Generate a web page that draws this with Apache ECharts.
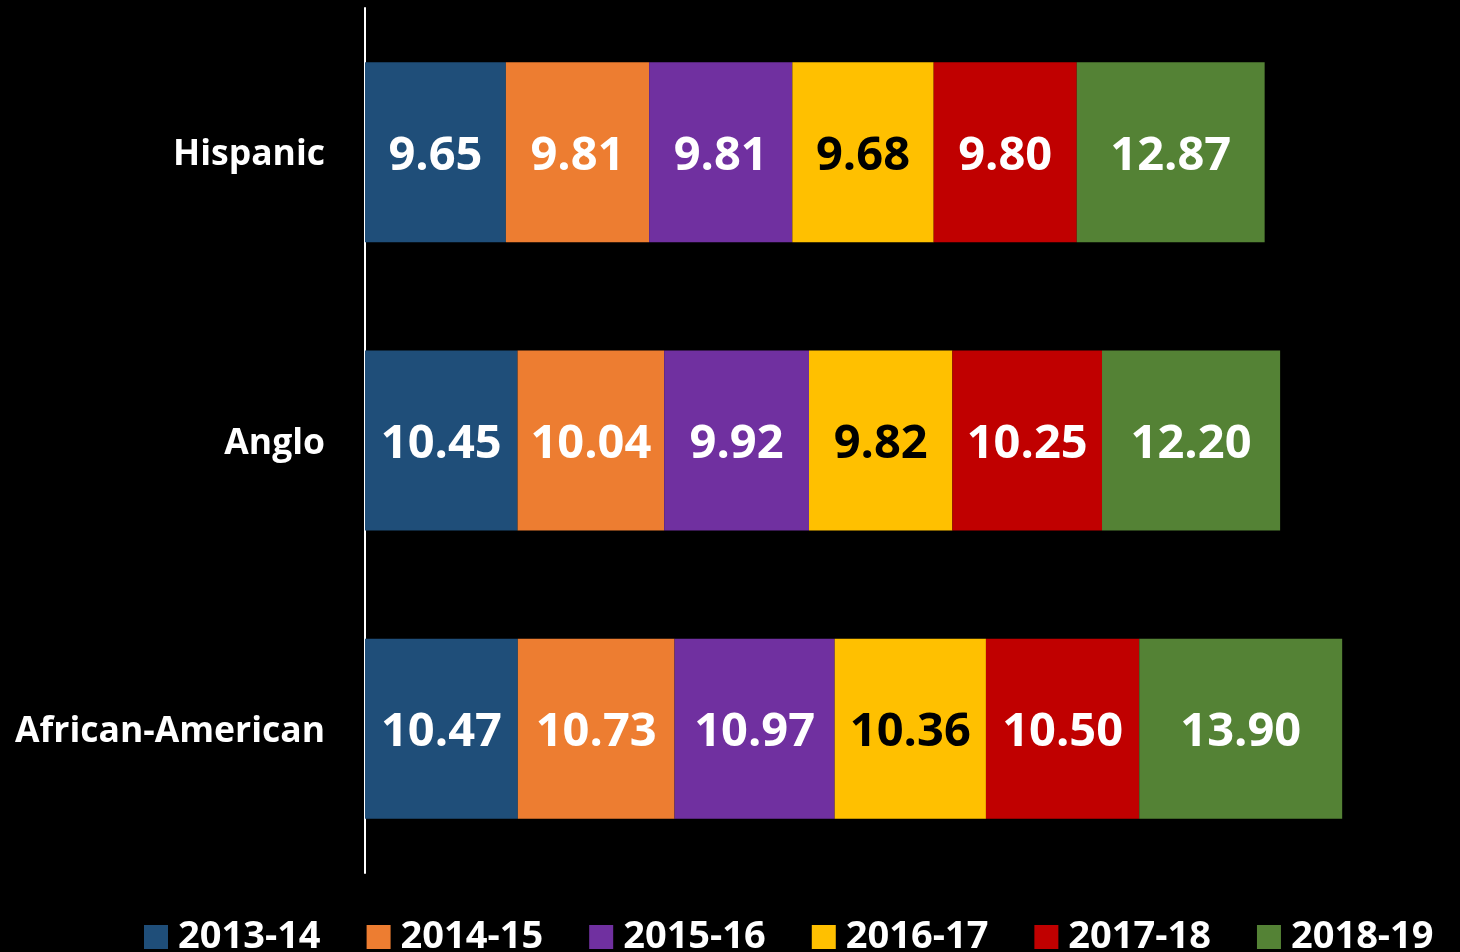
<!DOCTYPE html>
<html>
<head>
<meta charset="utf-8">
<script src="https://cdn.jsdelivr.net/npm/echarts@6/dist/echarts.min.js"></script>
<style>
  html, body { margin: 0; padding: 0; background: #000; }
  #main { width: 1460px; height: 952px; }
</style>
</head>
<body>
<div id="main"></div>
<script>
// 类别（自上而下）
var groups = ['Hispanic', 'Anglo', 'African-American'];
// 学年
var years = ['2013-14', '2014-15', '2015-16', '2016-17', '2017-18', '2018-19'];
// 各学年数值，顺序同 groups
var y2013 = [9.65, 10.45, 10.47];
var y2014 = [9.81, 10.04, 10.73];
var y2015 = [9.81, 9.92, 10.97];
var y2016 = [9.68, 9.82, 10.36];
var y2017 = [9.80, 10.25, 10.50];
var y2018 = [12.87, 12.20, 13.90];
var values = [y2013, y2014, y2015, y2016, y2017, y2018];

var colors = ['#1F4E79', '#ED7D31', '#7030A0', '#FFC000', '#C00000', '#548235'];
var labelColors = ['#fff', '#fff', '#fff', '#000', '#fff', '#fff'];
var font = '"Open Sans", "DejaVu Sans", sans-serif';

var chart = echarts.init(document.getElementById('main'));

var series = years.map(function (name, i) {
    return {
        name: name,
        type: 'bar',
        stack: 'total',
        barWidth: 180,
        data: values[i],
        itemStyle: { color: colors[i] },
        label: {
            show: true,
            position: 'inside',
            offset: [0, 4],
            formatter: function (p) { return p.value.toFixed(2); },
            color: labelColors[i],
            fontFamily: font,
            fontWeight: 'bold',
            fontSize: 47
        }
    };
});

chart.setOption({
    backgroundColor: '#000',
    animation: false,
    color: colors,
    grid: { left: 365, right: 73, top: 8, bottom: 79 },
    legend: {
        data: years,
        top: 918,
        left: 144,
        padding: 0,
        itemWidth: 24,
        itemHeight: 24,
        itemGap: 46,
        icon: 'rect',
        textStyle: {
            color: '#fff',
            fontFamily: font,
            fontWeight: 'bold',
            fontSize: 38,
            padding: [0, 0, 0, 5]
        }
    },
    xAxis: {
        type: 'value',
        min: 0,
        max: 70,
        show: false
    },
    yAxis: {
        type: 'category',
        data: groups,
        inverse: true,
        axisLine: { show: true, lineStyle: { color: '#fff', width: 2 } },
        axisTick: { show: false },
        axisLabel: {
            margin: 40,
            formatter: function (v) { return '{c|' + v + '}'; },
            rich: {
                c: {
                    color: '#fff',
                    fontFamily: font,
                    fontWeight: 'bold',
                    fontSize: 35.5,
                    padding: [6, 0, 0, 0]
                }
            }
        }
    },
    series: series
});
</script>
</body>
</html>
